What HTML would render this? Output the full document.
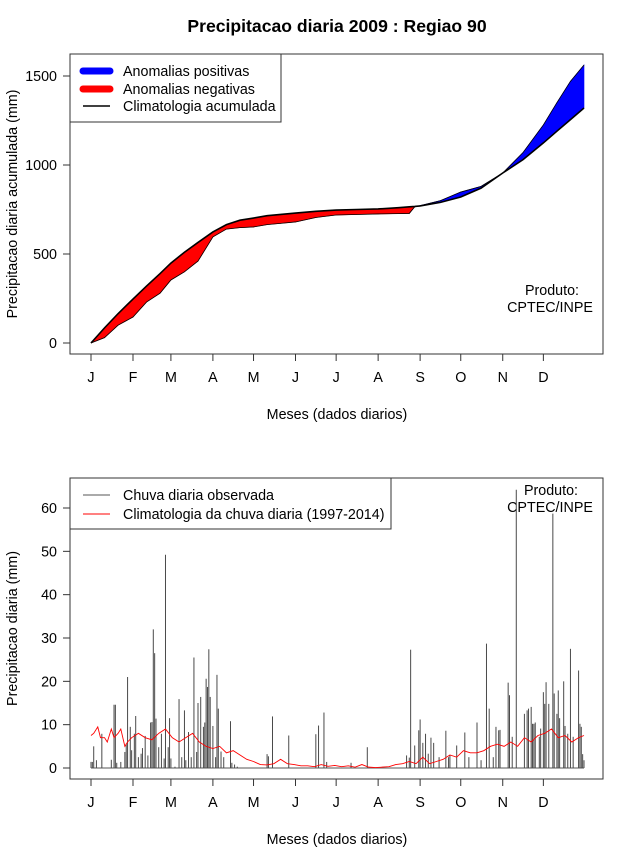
<!DOCTYPE html>
<html><head><meta charset="utf-8">
<style>
body{margin:0;background:#fff;}
svg{display:block;font-family:"Liberation Sans",Arial,sans-serif;}
</style></head>
<body>
<svg id="chart" width="640" height="850" viewBox="0 0 640 850" xmlns="http://www.w3.org/2000/svg">
<rect width="640" height="850" fill="#fff"/>
<text x="337" y="32" font-size="17.6" font-weight="bold" text-anchor="middle">Precipitacao diaria 2009 : Regiao 90</text>
<g id="top"></g>
<g id="bottom"></g>
</svg>
<script>
// ---------- data ----------
const monthLabels = ["J","F","M","A","M","J","J","A","S","O","N","D"];
const monthStartDays = [1,32,60,91,121,152,182,213,244,274,305,335];
const topYTicks = [0,500,1000,1500];
const bottomYTicks = [0,10,20,30,40,50,60];

const cumDays = [1,11,21,32,42,52,60,70,80,91,101,111,121,131,141,152,167,182,197,213,228,236,240,244,259,274,289,305,320,335,345,355,365];
const cumClim = [0,85,165,247,320,390,449,510,565,624,665,690,702,715,722,730,740,747,750,753,760,765,767,770,790,820,870,955,1030,1124,1190,1255,1320];
const cumObs  = [0,30,100,146,230,280,354,400,460,596,640,648,652,665,672,680,705,719,722,725,727,728,765,772,800,848,880,955,1070,1225,1350,1470,1562];

const obsDays = [1,2,3,5,9,16,18,19,20,23,26,27,28,30,31,33,34,36,38,39,41,43,45,46,47,48,49,51,53,55,56,58,59,60,63,66,68,70,71,73,75,77,79,80,82,84,85,86,87,88,89,91,93,94,95,97,99,104,105,107,109,131,132,135,147,167,169,173,175,193,205,234,236,237,240,243,244,246,248,250,252,254,258,263,265,266,271,277,280,286,289,293,295,298,300,302,303,309,310,312,315,321,323,324,326,327,328,329,332,333,335,336,337,339,342,343,345,346,347,350,351,353,355,357,361,362,363,364,365];
const obsVals = [1.4,1.4,5,1.8,7.9,1.9,14.6,14.6,1.2,1.4,3.7,5.6,21,9.5,4.1,7.9,12,2.5,3.3,4.6,7.4,2.9,10.5,10.6,32,26.5,11.4,4.8,7.9,2.2,49.2,4.8,11.5,2.2,0.3,15.9,2.5,13.3,1.8,8.3,2.5,25.5,3.7,15,16.4,9.5,10.5,20.6,18.7,27.4,16.4,9.7,2.5,21.5,13.7,3.8,2.5,10.8,1.2,0.8,0.3,3.2,2.7,11.9,7.5,7.8,9.8,12.8,1.4,1.2,4.8,2.9,2.4,27.3,5.2,8.7,11.2,5.8,7.9,3.3,7,5.8,2.5,8.6,2.5,2.9,5.2,8.2,2.5,10.5,1.8,28.7,13.7,2.5,9.5,8.7,8.8,19.7,16.8,7.2,64.2,12.5,13.3,13.7,14.1,10.2,10.2,10.5,7.2,9.1,17.5,14.8,19.8,14.8,58.7,17.2,12.5,17.9,11.5,20,9.7,7.9,27.5,7.2,22.5,10.2,9.5,3.2,1.8];

const climDays = [1,3,6,8,11,13,16,18,21,23,26,28,31,36,41,46,51,56,61,66,71,76,81,86,91,96,101,106,111,116,121,126,131,136,141,146,151,156,161,166,171,176,181,186,191,196,201,206,211,216,221,226,231,236,241,246,251,256,261,266,271,276,281,286,291,296,301,306,311,316,321,326,331,336,341,346,351,356,361,365];
const climVals = [7.5,8,9.5,7,7,6,9,7,8,9,5,6,7,8,7,6.5,8,9,7,6,7,8,6,5,4.5,5,3.5,4,3,2,1.5,0.8,0.7,1,2,1,0.8,0.5,0.5,0.3,0.8,0.4,0.6,0.3,0.5,0.2,0.8,0.2,0.1,0.2,0.3,0.8,1,1.5,1,2.5,1,1.5,2,3,2.5,4,3.5,3.5,4,5,5.5,5,6,5,7,6,7.5,8,9,7,7.5,6,7,7.5];

// ---------- helpers ----------
const NS = "http://www.w3.org/2000/svg";
const FS = 14.3;
function mk(parent, tag, attrs, text){
  const e = document.createElementNS(NS, tag);
  for (const k in attrs) e.setAttribute(k, attrs[k]);
  if (text !== undefined) e.textContent = text;
  parent.appendChild(e);
  return e;
}
const xDay = d => 91 + (d - 1) * (584 - 91) / 364;

function axes(g, box, yScale, yTicks, yTitle, yTitleX){
  const r = mk(g,'rect',{x:box.l,y:box.t,width:box.r-box.l,height:box.b-box.t,fill:'none',stroke:'#333','stroke-width':1});
  
  
  monthStartDays.forEach((d,i)=>{
    const x = xDay(d);
    const t = mk(g,'line',{x1:x,x2:x,y1:box.b,y2:box.b+7,stroke:'#333'});
    
    
    const lb = mk(g,'text',{x:x,y:box.b+28,'font-size':FS,'text-anchor':'middle'},monthLabels[i]);
    
    
  });
  yTicks.forEach(v=>{
    const y = yScale(v);
    const t = mk(g,'line',{x1:box.l-7,x2:box.l,y1:y,y2:y,stroke:'#333'});
    
    
    const lb = mk(g,'text',{x:box.l-13,y:y+5,'font-size':FS,'text-anchor':'end'},String(v));
    
    
  });
  const yt = mk(g,'text',{x:0,y:0,'font-size':FS,'text-anchor':'middle',transform:`translate(${yTitleX},${(box.t+box.b)/2}) rotate(-90)`},yTitle);
  
  
  const xt = mk(g,'text',{x:337,y:box.b+65,'font-size':FS,'text-anchor':'middle'},'Meses (dados diarios)');
  
  
}

// ---------- top chart ----------
const gt = document.getElementById('top');
const boxT = {l:70,r:603,t:54,b:354};
const yT = v => 343 - v * 89 / 500;
axes(gt, boxT, yT, topYTicks, 'Precipitacao diaria acumulada (mm)', 17);

for (let i = 0; i < cumDays.length - 1; i++){
  const x0 = xDay(cumDays[i]), x1 = xDay(cumDays[i+1]);
  const d0 = cumObs[i]-cumClim[i], d1 = cumObs[i+1]-cumClim[i+1];
  const segs = [];
  if (d0*d1 < 0){
    const f = d0/(d0-d1);
    const xm = x0 + f*(x1-x0);
    const vm = cumClim[i] + f*(cumClim[i+1]-cumClim[i]);
    segs.push({pts:`${x0},${yT(cumObs[i])} ${xm},${yT(vm)} ${x0},${yT(cumClim[i])}`, pos:d0>0});
    segs.push({pts:`${xm},${yT(vm)} ${x1},${yT(cumObs[i+1])} ${x1},${yT(cumClim[i+1])}`, pos:d1>0});
  } else {
    segs.push({pts:`${x0},${yT(cumObs[i])} ${x1},${yT(cumObs[i+1])} ${x1},${yT(cumClim[i+1])} ${x0},${yT(cumClim[i])}`, pos:(d0+d1)>0});
  }
  segs.forEach(s=>{
    const p = mk(gt,'polygon',{points:s.pts,fill:s.pos?'#0000ff':'#ff0000',stroke:s.pos?'#0000ff':'#ff0000','stroke-width':0.6});
    
    
  });
}
const obsLine = mk(gt,'polyline',{points:cumDays.map((d,i)=>`${xDay(d)},${yT(cumObs[i])}`).join(' '),fill:'none',stroke:'#000','stroke-width':0.8});


const climLine = mk(gt,'polyline',{points:cumDays.map((d,i)=>`${xDay(d)},${yT(cumClim[i])}`).join(' '),fill:'none',stroke:'#000','stroke-width':1.6});



// top legend
const lgT = mk(gt,'g',{});


mk(lgT,'rect',{x:70,y:54,width:211,height:68,fill:'#fff',stroke:'#333'});
mk(lgT,'line',{x1:83,x2:110,y1:71,y2:71,stroke:'#0000ff','stroke-width':7,'stroke-linecap':'round'});
mk(lgT,'text',{x:123,y:76,'font-size':FS},'Anomalias positivas');
mk(lgT,'line',{x1:83,x2:110,y1:89,y2:89,stroke:'#ff0000','stroke-width':7,'stroke-linecap':'round'});
mk(lgT,'text',{x:123,y:94,'font-size':FS},'Anomalias negativas');
mk(lgT,'line',{x1:83,x2:110,y1:106,y2:106,stroke:'#000','stroke-width':1.5});
mk(lgT,'text',{x:123,y:111,'font-size':FS},'Climatologia acumulada');
const pt1 = mk(gt,'text',{x:552,y:295,'font-size':FS,'text-anchor':'middle'},'Produto:');


const pt2 = mk(gt,'text',{x:550,y:312,'font-size':FS,'text-anchor':'middle'},'CPTEC/INPE');



// ---------- bottom chart ----------
const gb = document.getElementById('bottom');
const boxB = {l:70,r:603,t:478,b:779};
const yB = v => 768 - v * (768 - 508) / 60;
axes(gb, boxB, yB, bottomYTicks, 'Precipitacao diaria (mm)', 17);

const pb1 = mk(gb,'text',{x:551,y:495,'font-size':FS,'text-anchor':'middle'},'Produto:');


const pb2 = mk(gb,'text',{x:550,y:512,'font-size':FS,'text-anchor':'middle'},'CPTEC/INPE');



const base = mk(gb,'line',{x1:xDay(1),x2:xDay(365),y1:yB(0),y2:yB(0),stroke:'#777','stroke-width':1.2});


obsDays.forEach((d,i)=>{
  const x = xDay(d);
  const b = mk(gb,'line',{x1:x,x2:x,y1:yB(0),y2:yB(obsVals[i]),stroke:'#4a4a4a','stroke-width':1});
  
  
});
const cl = mk(gb,'polyline',{points:climDays.map((d,i)=>`${xDay(d)},${yB(climVals[i])}`).join(' '),fill:'none',stroke:'#ff0000','stroke-width':0.9});



const lgB = mk(gb,'g',{});


mk(lgB,'rect',{x:70,y:478,width:321,height:51,fill:'#fff',stroke:'#333'});
mk(lgB,'line',{x1:83,x2:110,y1:495,y2:495,stroke:'#555','stroke-width':1});
mk(lgB,'text',{x:123,y:500,'font-size':FS},'Chuva diaria observada');
mk(lgB,'line',{x1:83,x2:110,y1:514,y2:514,stroke:'#ff0000','stroke-width':1});
mk(lgB,'text',{x:123,y:519,'font-size':FS},'Climatologia da chuva diaria (1997-2014)');
</script>
</body></html>
